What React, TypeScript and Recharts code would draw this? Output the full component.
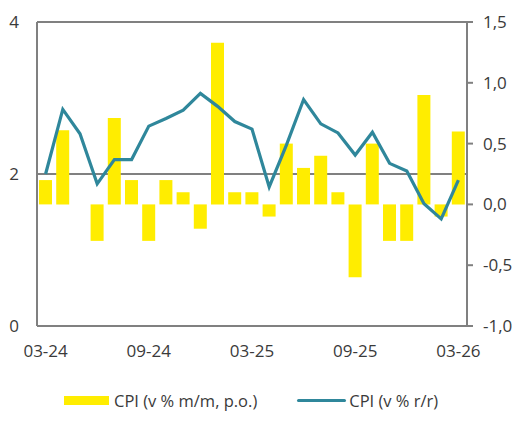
import { ComposedChart, Bar, Line, XAxis, YAxis, CartesianGrid, Legend } from 'recharts'

const months = [
  '03-24', '04-24', '05-24', '06-24', '07-24', '08-24', '09-24', '10-24', '11-24', '12-24',
  '01-25', '02-25', '03-25', '04-25', '05-25', '06-25', '07-25', '08-25', '09-25', '10-25',
  '11-25', '12-25', '01-26', '02-26', '03-26',
]
// CPI m/m (right axis)
const cpiMoM = [0.2, 0.61, 0, -0.3, 0.71, 0.2, -0.3, 0.2, 0.1, -0.2, 1.33, 0.1, 0.1, -0.1, 0.5, 0.3, 0.4, 0.1, -0.6, 0.5, -0.3, -0.3, 0.9, -0.1, 0.6]
// CPI y/y (left axis)
const cpiYoY = [2.0, 2.85, 2.53, 1.87, 2.19, 2.19, 2.63, 2.73, 2.84, 3.06, 2.89, 2.69, 2.59, 1.83, 2.38, 2.98, 2.66, 2.54, 2.25, 2.55, 2.14, 2.04, 1.61, 1.41, 1.92]

const leftTicks = [0, 2, 4]
const rightTicks = [-1, -0.5, 0, 0.5, 1, 1.5]

const YELLOW = '#FFED00'
const TEAL = '#2F879B'
const GRAY = '#808080'
const TEXT = '#3a3a3a'

const data = months.map((m, i) => ({ month: m, mom: cpiMoM[i], yoy: cpiYoY[i] }))

const fmtComma = (v: number) => v.toFixed(1).replace('.', ',')

function LegendBox(props: any) {
  const items = props.payload || []
  return (
    <div style={{ height: 36, display: 'flex', alignItems: 'center', paddingLeft: 56, color: TEXT, fontSize: 16.5 }}>
      {items.map((e: any, i: number) => (
        <div key={i} style={{ display: 'flex', alignItems: 'center', marginRight: 40 }}>
          {e.type === 'rect' ? (
            <div style={{ width: 45, height: 9, background: YELLOW, marginRight: 5 }} />
          ) : (
            <div style={{ width: 49, height: 3, borderRadius: 2, background: TEAL, marginRight: 3 }} />
          )}
          <span>{e.value}</span>
        </div>
      ))}
    </div>
  )
}

export default function App() {
  return (
    <div style={{ fontFamily: '"Open Sans", sans-serif' }}>
      <ComposedChart width={510} height={410} data={data}
        margin={{ top: 14, right: 0, bottom: 0, left: 0 }}>
        <CartesianGrid vertical={false} stroke={GRAY} strokeWidth={2} />
        <XAxis dataKey="month" interval={5} height={56} tickSize={0} tickMargin={19}
          axisLine={{ stroke: GRAY, strokeWidth: 2 }} tickLine={false}
          tick={{ fill: TEXT, fontSize: 17 }} />
        <YAxis domain={[0, 4]} ticks={leftTicks} width={29} tickSize={0} tickMargin={18}
          axisLine={{ stroke: GRAY, strokeWidth: 2 }} tickLine={false}
          tick={{ fill: TEXT, fontSize: 17 }} />
        <YAxis yAxisId="right" orientation="right" domain={[-1, 1.5]} ticks={rightTicks}
          width={51} tickSize={6} tickMargin={10} tickFormatter={fmtComma}
          axisLine={{ stroke: GRAY, strokeWidth: 2 }} tickLine={{ stroke: GRAY, strokeWidth: 2 }}
          tick={{ fill: TEXT, fontSize: 17 }} />
        <Legend verticalAlign="bottom" content={<LegendBox />} />
        <Bar yAxisId="right" dataKey="mom" name="CPI (v % m/m, p.o.)" fill={YELLOW}
          barSize={13} isAnimationActive={false} />
        <Line dataKey="yoy" name="CPI (v % r/r)" stroke={TEAL} strokeWidth={3.2}
          dot={false} activeDot={false} isAnimationActive={false} />
      </ComposedChart>
    </div>
  )
}
